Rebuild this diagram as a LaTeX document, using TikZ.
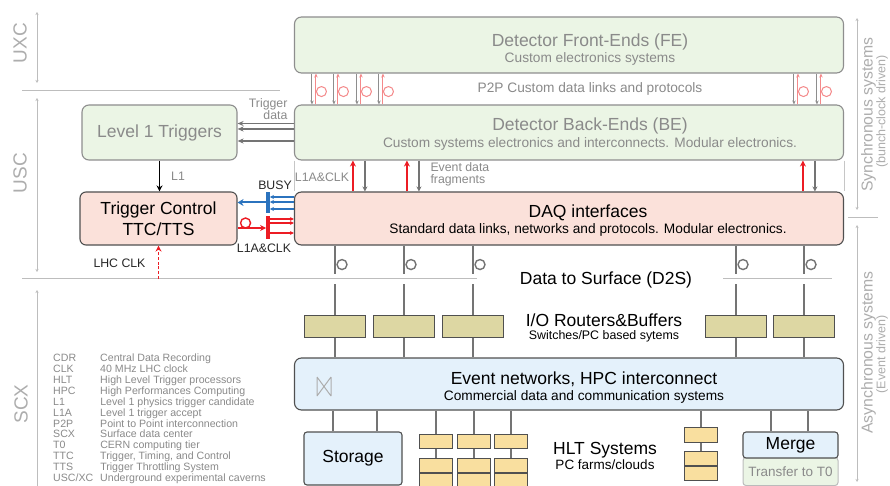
\documentclass[tikz,border=0pt]{standalone}
\usepackage{fontspec}
\setmainfont{Liberation Sans}
\usepackage{xcolor}
\usepackage{tikz}
\usetikzlibrary{positioning,arrows.meta}
\definecolor{feGreen}{HTML}{EBF5E5}
\definecolor{daqPink}{HTML}{FBE1DA}
\definecolor{netBlue}{HTML}{E4F1FB}
\definecolor{rtrKhaki}{HTML}{DDD7A3}
\definecolor{farmOrange}{HTML}{F9DF9F}
\definecolor{lightEdge}{HTML}{8E8E8E}
\definecolor{darkEdge}{HTML}{505050}
\definecolor{softText}{HTML}{8A8A8A}
\definecolor{zoneGray}{HTML}{ADADAD}
\definecolor{wire}{HTML}{747474}
\definecolor{ttcRed}{HTML}{EC1C24}
\definecolor{p2pRed}{HTML}{F4898A}
\definecolor{busyBlue}{HTML}{2B73BE}
\newcommand\subtxt{\fontsize{13.7}{16}\selectfont}
\newcommand\smalltxt{\fontsize{12.3}{12}\selectfont}

\begin{document}
\begin{tikzpicture}[x=1pt,y=-1pt,
    every node/.style={font=\fontsize{17.5}{16}\selectfont},
    febox/.style={draw=lightEdge,fill=feGreen,line width=1.1pt,rounded corners=7pt},
    daqbox/.style={draw=darkEdge,fill=daqPink,line width=1.1pt,rounded corners=7pt},
    netbox/.style={draw=darkEdge,fill=netBlue,line width=1.1pt,rounded corners=7pt},
    rtr/.style={draw=darkEdge,fill=rtrKhaki,line width=1pt,minimum width=61pt,minimum height=22pt,inner sep=0pt},
    cpu/.style={draw=darkEdge,fill=farmOrange,line width=1pt,minimum width=33pt,minimum height=14pt,inner sep=0pt},
    head/.style={align=center},
    note/.style={font=\smalltxt,text=softText},
    blacktag/.style={font=\smalltxt,text=black!85},
    zonetxt/.style={font=\fontsize{19}{19}\selectfont,text=zoneGray,rotate=90},
    kindtxt/.style={font=\fontsize{15.8}{16}\selectfont,text=zoneGray,rotate=90,inner sep=1pt},
    zoneline/.style={draw=zoneGray!80,line width=0.8pt,>={Stealth[length=3pt,width=3pt]},<->},
    zonesep/.style={draw=zoneGray!80,line width=0.8pt},
    sidewall/.style={draw=zoneGray!70,line width=0.6pt},
    link/.style={draw=wire,line width=2.5pt},
    loopln/.style={draw=wire,line width=1.4pt},
    p2pdown/.style={draw=lightEdge,line width=1pt,-{Stealth[length=4pt,width=3.5pt]}},
    p2pup/.style={draw=p2pRed,line width=1pt,-{Stealth[length=4pt,width=3.5pt]}},
    p2ploop/.style={draw=p2pRed,line width=1pt},
    evup/.style={draw=ttcRed,line width=1.8pt,-{Stealth[length=6pt,width=6pt]}},
    evdown/.style={draw=wire,line width=1.6pt,-{Stealth[length=5pt,width=5pt]}},
    tdata/.style={draw=wire,line width=1.4pt,-{Stealth[length=6pt,width=5pt]}},
    l1ln/.style={draw=black,line width=1.6pt,-{Stealth[length=6pt,width=6pt]}},
    clkln/.style={draw=ttcRed,line width=1.9pt,dash pattern=on 3pt off 1.8pt,-{Stealth[length=6pt,width=6pt]}},
    busyln/.style={draw=busyBlue,line width=1.2pt,-{Stealth[length=4pt,width=4pt]}},
    busymain/.style={draw=busyBlue,line width=2pt,-{Stealth[length=6pt,width=7pt]}},
    ttcln/.style={draw=ttcRed,line width=1.2pt,-{Stealth[length=4pt,width=4pt]}},
    ttcmain/.style={draw=ttcRed,line width=1.6pt,-{Stealth[length=6pt,width=6pt]}},
    ttcloop/.style={draw=ttcRed,line width=1.4pt},
    thickbar/.style={inner sep=0pt,minimum width=3.5pt},
    glyph/.style={draw=zoneGray,line width=1pt}]

  \fill[white] (0,0) rectangle (890,486);
  \useasboundingbox (0,0) rectangle (890,486);

  % caverns and surface
  \node[zonetxt] (uxc) at (20,43) {UXC};
  \node[zonetxt] (usc) at (20,173) {USC};
  \node[zonetxt] (scx) at (21,404) {SCX};
  \draw[zoneline] (37,12) -- (37,83);
  \draw[zoneline] (37,98) -- (37,272);
  \draw[zoneline] (37,290) -- (37,495);
  \draw[zonesep] (22,90) -- (280,90);
  \draw[zonesep] (22,278) -- (477,278);
  \draw[zonesep] (723,278) -- (832,278);

  % sync / async
  \draw[zonesep] (848,217) -- (878,217);
  \draw[zoneline] (857,18) -- (857,210);
  \draw[zoneline] (857,225) -- (857,482);
  \node[kindtxt] (sync) at (868.5,114.5) {Synchronous systems};
  \node[kindtxt,font=\fontsize{12.5}{14}\selectfont] (sync2) at (882,111.5) {(bunch-clock driven)};
  \node[kindtxt] (async) at (868.5,352.5) {Asynchronous systems};
  \node[kindtxt,font=\fontsize{12.5}{14}\selectfont] (async2) at (882,354.5) {(Event driven)};

  % front-ends and back-ends
  \node[febox,minimum width=549pt,minimum height=56pt] (fe) at (569,45) {};
  \node[head,text=softText] (fetxt) at ([xshift=21pt,yshift=-5pt]fe.center) {Detector Front-Ends (FE)\\\subtxt Custom electronics systems};
  \node[febox,minimum width=549pt,minimum height=55pt] (be) at (569,132.5) {};
  \node[head,text=softText] (betxt) at ([xshift=21pt,yshift=-1.5pt]be.center) {Detector Back-Ends (BE)\\[1pt]\subtxt Custom systems electronics and interconnects. Modular electronics.};
  \node[text=softText,font=\subtxt] (p2p) at (590,89) {P2P Custom data links and protocols};
  \foreach \dx in {18,40,63,85,500,523}{
    \draw[p2pdown] ([xshift=\dx pt]fe.south west) -- ([xshift=\dx pt]be.north west);
    \draw[p2pup] ([xshift=\dx pt+4pt]be.north west) -- ([xshift=\dx pt+4pt]fe.south west);
    \draw[p2ploop] ([xshift=\dx pt+9.5pt]fe.south west) ++(0,18) circle[radius=5];
  }

  % level 1 and trigger control
  \node[febox,minimum width=155pt,minimum height=55pt,text=softText] (l1) at (159.5,132.5) {Level 1 Triggers};
  \foreach \dy in {9,3.5,-8.5}
    \draw[tdata] ([yshift=\dy pt]be.west) -- ([yshift=\dy pt]l1.east);
  \node[note,align=right,anchor=east] (tdlbl) at ([xshift=-3pt,yshift=-5pt]be.north west) {Trigger\\data};
  \node[daqbox,rounded corners=6pt,minimum width=157pt,minimum height=53pt,align=center,font=\fontsize{17.5}{21}\selectfont] (tc) at (158.5,218.5) {Trigger Control\\TTC/TTS};
  \draw[l1ln] (l1.south) -- (l1.south |- tc.north);
  \node[note] (l1lbl) at (178,176) {L1};
  \coordinate (clk) at (158.5,279);
  \draw[clkln] (clk) -- (tc.south);
  \node[blacktag,anchor=east] (clklbl) at (149,263) {LHC CLK};

  % DAQ interfaces
  \node[daqbox,minimum width=549pt,minimum height=53pt] (daq) at (569,218.5) {};
  \node[head] (daqtxt) at ([xshift=19pt,yshift=-2pt]daq.center) {DAQ interfaces\\\subtxt Standard data links, networks and protocols. Modular electronics.};
  \draw[sidewall] (be.south west) -- (daq.north west);
  \draw[sidewall] (be.south east) -- (daq.north east);
  \foreach \dx in {59,113,509}{
    \draw[evup] ([xshift=\dx pt]daq.north west) -- ([xshift=\dx pt]be.south west);
    \draw[evdown] ([xshift=\dx pt+12pt]be.south west) -- ([xshift=\dx pt+12pt]daq.north west);
  }
  \node[note] (l1anote) at (322,177) {L1A\&CLK};
  \node[note,align=left,anchor=west] (evlbl) at (427,174.5) {Event data\\fragments};

  % busy and L1A&CLK fan-out
  \node[thickbar,fill=busyBlue,minimum height=21pt] (busybar) at (268,202.5) {};
  \node[thickbar,fill=ttcRed,minimum height=23pt] (l1abar) at (268,227.5) {};
  \foreach \dy in {21.5,16.5,9.5}
    \draw[busyln] ([yshift=\dy pt]daq.west) -- ([yshift=\dy pt]daq.west -| busybar.east);
  \draw[busymain] (busybar.west) -- (busybar.west -| tc.east);
  \draw[ttcmain] ([yshift=-9.5pt]tc.east) -- ([yshift=-9.5pt]tc.east -| l1abar.west);
  \draw[ttcloop] ([xshift=8pt,yshift=-4.5pt]tc.east) circle[radius=5];
  \foreach \dy in {-0.5,-4.5,-14.5}
    \draw[ttcln] ([yshift=\dy pt]daq.west -| l1abar.east) -- ([yshift=\dy pt]daq.west);
  \node[blacktag] (busylbl) at (275,185) {BUSY};
  \node[blacktag] (l1albl) at (264,248) {L1A\&CLK};

  % data to surface, routers, event network
  \node (d2s) at (606,280) {Data to Surface (D2S)};
  \node[netbox,minimum width=549pt,minimum height=52pt] (en) at (569,384) {};
  \node[head] (entxt) at ([xshift=15pt,yshift=-4pt]en.center) {Event networks, HPC interconnect\\\subtxt Commercial data and communication systems};
  \draw[glyph] (317,377) -- (317,396) (331,377) -- (331,396) (317,377) -- (331,396) (317,396) -- (331,377);
  \foreach \i/\x in {1/335,2/404,3/473,4/736,5/804}{
    \node[rtr] (rtr\i) at (\x,326) {};
    \draw[link] (rtr\i |- daq.south) -- ++(0,28);
    \draw[loopln] ([xshift=7pt,yshift=-19pt]rtr\i |- daq.south) circle[radius=5];
    \draw[link] (rtr\i.north) -- ++(0,-31);
    \draw[link] (rtr\i.south) -- (rtr\i |- en.north);
  }
  \node[head] (rtrtxt) at (604,328) {I/O Routers\&Buffers\\[-3pt]{\fontsize{12.4}{14}\selectfont Switches/PC based sytems}};

  % storage, HLT farms, merge
  \node[netbox,rounded corners=3pt,minimum width=98pt,minimum height=53pt] (stor) at (353,458.5) {Storage};
  \foreach \dx in {-20,24}
    \draw[link] ([xshift=\dx pt]stor.north) -- ([xshift=\dx pt]stor.north |- en.south);
  \foreach \col/\x in {1/436,2/474,3/511}{
    \node[cpu] (hlt\col top) at (\x,441) {};
    \node[cpu,below=9pt of hlt\col top] (hlt\col mid) {};
    \node[cpu,below=0pt of hlt\col mid] (hlt\col bot) {};
    \draw[link] (hlt\col top.north) -- (hlt\col top |- en.south);
    \draw[link] (hlt\col top.south) -- (hlt\col mid.north);
  }
  \node[cpu,minimum height=15pt] (hlt4top) at (701,434.5) {};
  \node[cpu,below=8pt of hlt4top] (hlt4mid) {};
  \node[cpu,below=0pt of hlt4mid] (hlt4bot) {};
  \draw[link] (hlt4top.north) -- (hlt4top |- en.south);
  \draw[link] (hlt4top.south) -- (hlt4mid.north);
  \node[head] (hlttxt) at (605,455.5) {HLT Systems\\[-1pt]\fontsize{13.5}{16}\selectfont PC farms/clouds};
  \node[draw=lightEdge!60,fill=feGreen,line width=1pt,rounded corners=3pt,minimum width=95pt,minimum height=28pt,text=softText,font=\fontsize{13.5}{16}\selectfont] (t0) at (790.5,471.5) {Transfer to T0};
  \node[netbox,rounded corners=3pt,minimum width=95pt,minimum height=26pt] (merge) at (790.5,445) {Merge};
  \foreach \dx in {-19.5,17.5}
    \draw[link] ([xshift=\dx pt]merge.north) -- ([xshift=\dx pt]merge.north |- en.south);

  % abbreviations
  \node[anchor=north west,inner sep=0pt,text=softText,font=\fontsize{10.6}{10.6}\selectfont] (abbr) at (53,354) {%
    \begin{tabular}{@{}l@{\hspace{7pt}}l@{}}
      CDR & Central Data Recording\\
      CLK & 40 MHz LHC clock\\
      HLT & High Level Trigger processors\\
      HPC & High Performances Computing\\
      L1 & Level 1 physics trigger candidate\\
      L1A & Level 1 trigger accept\\
      P2P & Point to Point interconnection\\
      SCX & Surface data center\\
      T0 & CERN computing tier\\
      TTC & Trigger, Timing, and Control\\
      TTS & Trigger Throttling System\\
      USC/XC & Underground experimental caverns
    \end{tabular}};
\end{tikzpicture}
\end{document}
